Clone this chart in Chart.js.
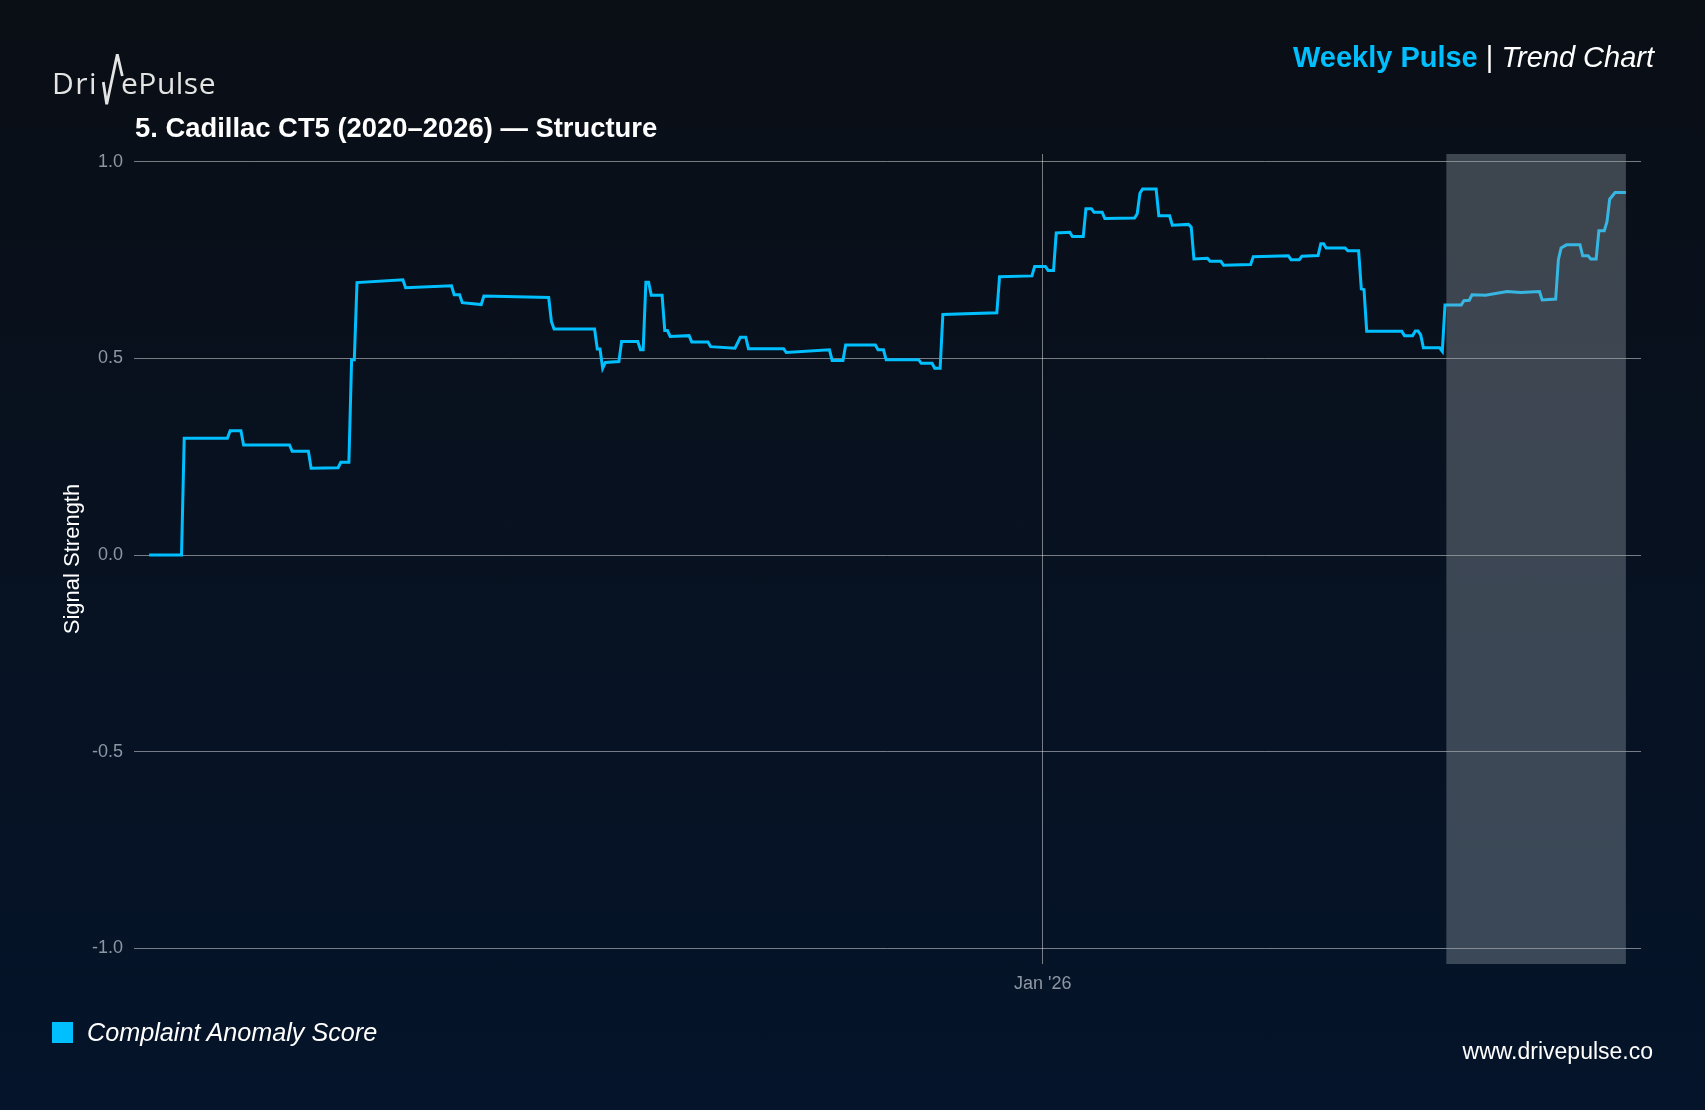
<!DOCTYPE html>
<html>
<head>
<meta charset="utf-8">
<script src="https://cdn.jsdelivr.net/npm/chart.js@4"></script>
<style>
  html, body { margin: 0; padding: 0; }
  body {
    width: 1705px; height: 1110px; overflow: hidden; position: relative;
    background: linear-gradient(to bottom, #0a0e15 0%, #071222 55%, #05142a 100%);
    font-family: 'Liberation Sans', Arial, sans-serif;
  }
  .txt { position: absolute; line-height: 1; white-space: nowrap; }
  #wrap { position: absolute; left: 0; top: 0; width: 1705px; height: 1110px; }
</style>
</head>
<body>
<div id="wrap"><canvas id="myChart"></canvas></div>

<!-- logo -->
<div class="txt" style="left:52px; top:67.5px; font-family:'Open Sans',sans-serif; font-size:30px; color:#e4e4e4; letter-spacing:1.5px;">Dri</div>
<svg style="position:absolute; left:100px; top:50px;" width="28" height="60">
  <polyline points="3.3,32 6.7,54.3 17.3,4.3 22.3,26" fill="none" stroke="#e4e4e4" stroke-width="2.8" stroke-linejoin="miter"/>
</svg>
<div class="txt" style="left:121px; top:67.5px; font-family:'Open Sans',sans-serif; font-size:30px; color:#e4e4e4; letter-spacing:0.5px;">ePulse</div>

<div class="txt" style="left:135px; top:113.8px; font-size:27.4px; font-weight:bold; color:#ffffff;">5. Cadillac CT5 (2020–2026) — Structure</div>

<div class="txt" style="right:51px; top:43px; font-size:29px; color:#ffffff;"><span style="font-weight:bold; color:#00bfff;">Weekly Pulse</span> | <span style="font-style:italic;">Trend Chart</span></div>

<div style="position:absolute; left:52px; top:1022px; width:21px; height:21px; background:#00bfff;"></div>
<div class="txt" style="left:87px; top:1020.4px; font-size:25.2px; font-style:italic; color:#ffffff;">Complaint Anomaly Score</div>

<div class="txt" style="right:52px; top:1039.5px; font-size:23px; color:#ffffff;">www.drivepulse.co</div>

<script>
// days relative to 1 Jan 2026, and the anomaly score on that day
var dayOffsets = [
  -331, -319, -318, -302, -301, -297, -296, -279, -278, -272,
  -271, -261, -260, -257, -256, -255, -254, -237, -236, -219,
  -218, -216, -215, -208, -207, -183, -182, -181, -166, -165,
  -164, -163, -162, -157, -156, -150, -149, -148, -147, -146,
  -145, -141, -140, -139, -138, -131, -130, -124, -123, -114,
  -112, -110, -109, -96, -95, -79, -78, -74, -73, -62,
  -61, -59, -58, -46, -45, -41, -40, -38, -37, -17,
  -16, -4, -3, 1, 2, 4, 5, 10, 11, 15,
  16, 18, 19, 22, 23, 34, 35, 36, 37, 42,
  43, 47, 48, 54, 55, 56, 61, 62, 66, 67,
  77, 78, 91, 92, 95, 96, 102, 103, 104, 105,
  112, 113, 117, 118, 119, 120, 133, 134, 137, 138,
  139, 140, 141, 147, 148, 149, 155, 156, 158, 159,
  164, 172, 177, 184, 185, 190, 191, 192, 194, 199,
  200, 202, 203, 205, 206, 208, 209, 210, 212, 216
];
var scores = [
  0.000, 0.000, 0.297, 0.297, 0.316, 0.316, 0.280, 0.280, 0.264, 0.264,
  0.221, 0.222, 0.236, 0.236, 0.497, 0.497, 0.693, 0.700, 0.680, 0.685,
  0.662, 0.662, 0.642, 0.637, 0.659, 0.655, 0.594, 0.575, 0.575, 0.524,
  0.524, 0.475, 0.490, 0.492, 0.543, 0.543, 0.522, 0.522, 0.694, 0.694,
  0.661, 0.661, 0.571, 0.571, 0.556, 0.558, 0.542, 0.542, 0.530, 0.526,
  0.554, 0.554, 0.525, 0.525, 0.515, 0.522, 0.495, 0.495, 0.534, 0.534,
  0.522, 0.522, 0.497, 0.497, 0.488, 0.488, 0.475, 0.475, 0.612, 0.616,
  0.708, 0.710, 0.734, 0.734, 0.724, 0.724, 0.819, 0.821, 0.810, 0.810,
  0.881, 0.881, 0.872, 0.872, 0.856, 0.857, 0.868, 0.920, 0.931, 0.931,
  0.863, 0.863, 0.839, 0.841, 0.834, 0.753, 0.755, 0.747, 0.747, 0.737,
  0.739, 0.759, 0.761, 0.751, 0.751, 0.760, 0.762, 0.792, 0.792, 0.781,
  0.781, 0.774, 0.774, 0.677, 0.675, 0.569, 0.569, 0.558, 0.558, 0.570,
  0.570, 0.560, 0.527, 0.527, 0.518, 0.636, 0.636, 0.647, 0.648, 0.662,
  0.661, 0.670, 0.668, 0.670, 0.649, 0.651, 0.751, 0.781, 0.789, 0.789,
  0.761, 0.761, 0.753, 0.753, 0.825, 0.825, 0.848, 0.905, 0.922, 0.922
];
var xTickDays = [0];
var xTickLabels = ["Jan '26"];
var yTickValues = [-1.0, -0.5, 0.0, 0.5, 1.0];
var shadeRange = [149.5, 216];   // recent window, highlighted

var gridColor = 'rgba(255,255,255,0.45)';
var tickColor = '#8d97a3';
var lineColor = '#00bfff';

Chart.defaults.font.family = "'Liberation Sans', Arial, sans-serif";

// grey box over the most recent weeks
var shadePlugin = {
    id: 'shade',
    afterDatasetsDraw: function(chart) {
        var ctx = chart.ctx, area = chart.chartArea, x = chart.scales.x;
        var x0 = x.getPixelForValue(shadeRange[0]);
        var x1 = x.getPixelForValue(shadeRange[1]);
        ctx.save();
        ctx.fillStyle = 'rgba(156,166,176,0.36)';
        ctx.fillRect(x0, area.top, x1 - x0, area.bottom - area.top);
        ctx.restore();
    }
};

var ctx = document.getElementById('myChart').getContext('2d');
var chart = new Chart(ctx, {
    type: 'line',
    data: {
        datasets: [{
            label: 'Complaint Anomaly Score',
            data: dayOffsets.map(function(d, i) { return { x: d, y: scores[i] }; }),
            borderColor: lineColor,
            borderWidth: 3,
            pointRadius: 0,
            tension: 0,
            fill: false
        }]
    },
    options: {
        responsive: true,
        maintainAspectRatio: false,
        animation: false,
        layout: { padding: { top: 154, right: 64, bottom: 0, left: 0 } },
        plugins: {
            legend: { display: false },
            tooltip: { enabled: false }
        },
        scales: {
            x: {
                type: 'linear',
                min: -336.6,
                max: 221.6,
                afterFit: function(s) { s.height = 146; },
                afterBuildTicks: function(s) {
                    s.ticks = xTickDays.map(function(v) { return { value: v }; });
                },
                ticks: {
                    autoSkip: false,
                    maxRotation: 0,
                    padding: 9,
                    color: tickColor,
                    font: { size: 18 },
                    callback: function(v) { return xTickLabels[xTickDays.indexOf(v)]; }
                },
                grid: { color: gridColor, drawTicks: false },
                border: { display: false }
            },
            y: {
                min: -1.04,
                max: 1.02,
                afterFit: function(s) { s.width = 134; },
                afterBuildTicks: function(s) {
                    s.ticks = yTickValues.map(function(v) { return { value: v }; });
                },
                ticks: {
                    padding: 11,
                    color: tickColor,
                    font: { size: 18 },
                    callback: function(v) { return Number(v).toFixed(1); }
                },
                title: {
                    display: true,
                    text: 'Signal Strength',
                    color: '#ffffff',
                    font: { size: 22 },
                    padding: { top: 60, bottom: 0 }
                },
                grid: { color: gridColor, drawTicks: false },
                border: { display: false }
            }
        }
    },
    plugins: [shadePlugin]
});
</script>
</body>
</html>
